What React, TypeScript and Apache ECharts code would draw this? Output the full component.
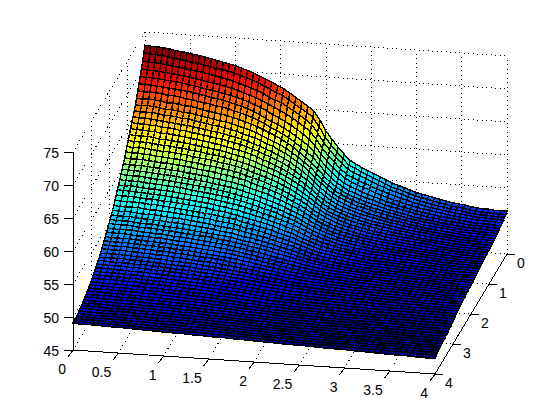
import React, { useEffect, useRef } from "react";
import * as echarts from "echarts";

// Surface height in tenths of a z unit. One row per y step (y = 0 ... 4), one column per x step (x = 0 ... 4).
const surfaceTenths = [
[730,729,729,728,727,725,724,723,721,720,718,716,714,712,710,708,705,702,699,695,691,687,682,678,672,666,660,654,647,634,618,606,595,585,576,571,566,562,558,554,550,546,543,540,537,534,532,530,528,526,524,522,521,520,518,517,516,516,515,515,515],
[721,720,720,719,718,716,715,714,712,711,709,707,705,704,702,700,697,694,691,687,683,679,674,671,665,659,653,648,641,628,613,601,591,581,572,568,563,559,555,551,547,543,541,538,535,532,530,528,526,524,522,520,519,518,516,515,514,514,513,513,513],
[712,711,711,710,709,707,706,705,703,702,701,699,697,695,693,691,688,685,682,679,675,670,666,663,657,652,646,640,633,621,607,596,586,577,569,564,560,556,552,548,545,541,539,536,533,530,528,526,524,522,521,519,518,517,515,514,513,513,512,512,512],
[703,702,702,701,700,699,698,697,695,694,692,690,689,687,685,683,680,677,674,671,667,663,658,654,649,644,638,632,625,614,601,590,581,572,564,560,556,552,549,545,542,539,536,533,531,528,526,524,522,521,519,518,516,515,514,513,512,512,511,511,510],
[695,694,694,693,692,691,690,689,687,686,684,682,681,679,677,675,673,670,667,663,660,655,650,646,641,636,630,624,617,607,595,585,576,568,561,556,552,549,546,542,539,536,533,531,528,526,524,522,521,519,518,516,515,514,513,512,511,511,510,510,509],
[687,686,686,685,684,683,682,681,680,679,677,675,673,672,670,668,665,663,660,656,652,647,643,639,634,629,623,617,610,601,590,580,571,563,557,552,549,545,542,539,536,533,531,528,526,524,522,520,519,517,516,515,514,513,511,510,509,509,509,508,508],
[679,678,678,678,677,675,675,674,672,671,669,668,666,664,663,661,658,656,653,650,646,642,637,633,628,623,617,610,603,596,586,576,567,560,554,549,546,542,539,537,534,531,529,527,525,523,521,519,517,516,515,513,512,512,510,509,509,508,508,507,507],
[671,670,671,670,669,667,667,666,664,664,662,660,658,657,655,654,651,649,646,643,640,636,632,628,623,618,612,605,598,591,582,572,564,557,551,547,543,540,537,534,532,529,527,525,523,521,519,517,516,515,513,512,511,510,509,508,508,507,507,506,506],
[664,663,664,663,662,660,660,659,657,657,655,653,652,650,648,647,645,642,640,637,634,630,626,622,618,613,607,601,594,587,578,569,561,554,549,545,541,538,535,532,530,528,526,524,522,520,518,517,515,514,513,511,510,509,508,507,507,506,506,506,505],
[658,657,657,657,656,654,654,653,651,651,649,647,646,644,643,641,639,637,634,631,629,625,621,618,613,609,603,597,591,584,575,567,559,552,547,543,539,536,534,531,529,527,525,523,521,519,517,516,514,513,512,511,510,509,507,507,506,506,505,505,505],
[652,651,651,650,649,648,647,646,645,644,643,641,640,638,637,635,633,631,629,626,623,620,616,613,608,604,599,593,587,580,572,564,556,550,545,541,537,534,532,529,527,525,523,521,520,518,516,515,513,512,511,510,509,508,507,506,505,505,505,504,504],
[646,645,645,644,644,642,642,641,639,639,637,636,634,633,631,630,628,626,624,621,618,615,611,608,604,600,595,589,583,577,569,561,554,548,543,539,536,533,530,528,526,524,522,520,519,517,516,514,513,511,510,509,508,507,506,505,505,504,504,504,503],
[640,639,639,638,638,636,636,635,634,633,631,630,629,627,626,624,622,620,618,616,613,610,606,603,599,595,590,585,579,573,566,558,551,546,541,537,534,531,529,526,524,522,521,519,517,516,514,513,512,511,510,508,508,507,505,505,504,504,503,503,503],
[634,633,633,633,632,630,630,629,628,627,626,624,623,622,620,619,617,615,613,611,608,605,601,598,595,591,586,581,576,570,563,556,549,544,539,536,532,530,527,525,523,521,520,518,516,515,514,512,511,510,509,508,507,506,505,504,504,503,503,503,502],
[628,627,627,627,626,625,624,624,622,622,620,619,618,616,615,614,612,610,608,606,603,600,597,594,590,587,582,577,572,566,560,553,547,541,537,534,531,528,526,524,522,520,518,517,515,514,513,511,510,509,508,507,506,505,504,504,503,503,502,502,502],
[622,621,622,621,620,619,618,618,617,616,615,613,612,611,610,608,606,605,603,601,598,595,592,589,586,582,578,574,569,563,558,551,545,540,536,532,529,526,524,522,520,518,517,515,514,513,512,511,510,509,508,507,506,505,504,503,503,502,502,502,501],
[617,616,616,615,615,613,613,612,611,611,609,608,607,605,604,603,601,600,598,596,593,590,588,585,581,578,574,570,565,560,555,548,543,538,534,530,527,525,523,521,519,517,516,514,513,512,511,510,509,508,507,506,505,504,503,503,502,502,501,501,501],
[611,610,610,610,609,608,607,607,606,605,604,603,601,600,599,598,596,595,593,591,589,586,583,580,577,574,570,566,561,557,552,546,540,536,532,528,526,523,521,519,517,516,514,513,512,511,510,509,508,507,506,505,504,504,503,502,502,501,501,501,500],
[605,604,604,604,603,602,602,601,600,600,598,597,596,595,594,592,591,589,588,586,584,581,578,576,573,569,566,562,558,554,549,544,538,534,530,527,524,522,520,518,516,515,513,512,511,510,509,508,507,506,505,504,504,503,502,502,501,501,500,500,500],
[600,599,599,598,598,597,596,596,595,594,593,592,591,590,589,587,586,584,583,581,579,576,574,571,568,565,562,558,554,551,546,541,536,532,528,525,523,520,519,517,515,514,512,511,510,509,508,507,506,505,505,504,503,502,502,501,500,500,500,500,499],
[595,594,594,594,593,592,591,591,590,589,588,587,586,585,584,583,581,580,578,576,574,572,570,567,564,561,558,555,551,548,543,538,534,530,527,524,521,519,517,516,514,513,511,510,509,508,507,507,506,505,504,503,503,502,501,501,500,500,499,499,499],
[590,589,589,589,588,587,587,586,585,585,584,583,581,580,579,578,577,575,574,572,570,568,565,563,560,558,555,551,548,545,541,536,532,528,525,522,520,518,516,515,513,512,510,509,509,508,507,506,505,504,504,503,502,502,501,500,500,499,499,499,498],
[585,584,585,584,583,582,582,581,581,580,579,578,577,576,575,574,572,571,569,568,566,564,561,559,556,554,551,548,545,542,538,534,530,526,523,521,518,516,515,513,512,511,509,509,508,507,506,505,505,504,503,502,502,501,500,500,499,499,499,498,498],
[581,580,580,579,579,578,577,577,576,575,574,573,572,571,570,569,568,566,565,563,562,559,557,555,553,550,547,545,541,539,535,531,527,524,521,519,517,515,513,512,511,509,508,508,507,506,505,504,504,503,502,502,501,500,500,499,499,498,498,498,498],
[576,575,575,575,574,573,573,572,571,571,570,569,568,567,566,565,563,562,561,559,557,555,553,551,549,547,544,541,538,536,532,528,525,522,519,517,515,514,512,511,510,508,507,506,506,505,504,503,503,502,502,501,500,500,499,499,498,498,498,497,497],
[571,570,570,570,570,569,568,568,567,566,565,564,563,562,561,560,559,558,556,555,554,551,549,547,545,543,541,538,535,533,530,526,523,520,517,515,514,512,511,510,509,507,506,505,505,504,503,503,502,501,501,500,500,499,498,498,497,497,497,497,496],
[566,565,565,565,565,564,563,563,562,562,561,560,559,558,557,556,555,553,552,551,550,547,545,544,542,540,537,535,532,530,527,524,521,518,515,514,512,511,510,508,507,506,505,504,504,503,503,502,501,501,500,499,499,498,498,497,497,496,496,496,496],
[562,561,561,561,560,559,559,559,558,557,556,556,555,554,553,552,551,549,548,547,546,544,542,540,538,537,534,532,529,527,525,521,519,516,514,512,511,510,508,507,506,505,504,503,503,502,502,501,500,500,499,499,498,498,497,497,496,496,496,496,495],
[558,557,557,557,556,555,555,554,554,553,552,552,551,550,549,548,547,546,544,543,542,540,538,537,535,533,531,529,526,524,522,519,517,514,512,511,510,508,507,506,505,504,503,503,502,501,501,500,500,499,499,498,498,497,497,496,496,495,495,495,495],
[554,553,553,553,552,551,551,551,550,549,548,548,547,546,545,544,543,542,541,540,539,537,535,534,532,530,528,526,524,522,520,517,515,513,511,510,508,507,506,505,504,503,503,502,501,501,500,500,499,498,498,497,497,497,496,496,495,495,495,495,494],
[551,550,550,550,549,548,548,548,547,546,546,545,544,543,542,541,541,540,538,537,536,534,533,531,529,528,526,524,522,520,518,516,514,512,510,509,507,506,505,504,503,503,502,501,501,500,500,499,499,498,498,497,497,496,496,495,495,495,494,494,494],
[547,546,546,546,546,545,544,544,543,543,542,541,541,540,539,538,537,536,535,534,533,531,530,528,526,525,523,521,519,517,515,514,512,510,509,507,506,505,504,503,503,502,501,500,500,499,499,498,498,497,497,496,496,496,495,495,494,494,494,494,493],
[544,543,543,543,542,541,541,541,540,540,539,538,537,537,536,535,534,533,532,531,530,528,527,525,524,522,520,519,517,515,514,512,510,509,507,506,505,504,503,503,502,501,500,500,499,499,498,498,497,497,496,496,495,495,495,494,494,493,493,493,493],
[540,539,539,539,539,538,538,537,537,536,536,535,534,533,533,532,531,530,529,528,527,526,524,523,521,520,518,516,515,513,512,510,509,507,506,505,504,503,502,502,501,500,500,499,499,498,497,497,497,496,496,495,495,495,494,494,493,493,493,492,492],
[537,536,536,536,536,535,535,534,534,533,533,532,531,530,530,529,528,527,526,525,524,523,522,520,519,517,516,514,513,511,510,508,507,506,505,504,503,502,501,501,500,499,499,498,498,497,497,496,496,496,495,495,494,494,494,493,493,492,492,492,492],
[534,533,533,533,533,532,532,531,531,530,530,529,528,528,527,526,525,525,524,523,522,520,519,518,516,515,514,512,511,509,508,507,505,504,503,503,502,501,500,500,499,498,498,497,497,497,496,496,495,495,495,494,494,493,493,493,492,492,492,491,491],
[531,530,530,530,530,529,529,528,528,527,527,526,525,525,524,523,522,522,521,520,519,518,517,515,514,513,512,510,509,508,506,505,504,503,502,501,501,500,499,499,498,498,497,497,496,496,495,495,495,494,494,493,493,493,492,492,492,491,491,491,491],
[527,527,527,527,526,526,525,525,525,524,524,523,522,522,521,521,520,519,518,517,516,515,514,513,512,511,509,508,507,506,505,503,502,501,501,500,500,499,498,498,497,497,496,496,495,495,495,494,494,494,493,493,492,492,492,491,491,491,490,490,490],
[524,524,524,524,524,523,523,522,522,521,521,520,520,519,519,518,517,516,516,515,514,513,512,511,510,509,507,506,505,504,503,502,501,500,500,499,498,498,497,497,496,496,495,495,495,494,494,493,493,493,492,492,492,491,491,491,490,490,490,490,490],
[522,522,521,521,521,521,520,520,520,519,519,518,517,517,516,516,515,514,514,513,512,511,510,509,508,507,506,505,504,503,502,501,500,499,499,498,497,497,496,496,495,495,495,494,494,493,493,493,492,492,492,491,491,491,490,490,490,489,489,489,489],
[520,519,519,519,519,518,518,518,517,517,516,516,515,515,514,513,513,512,511,511,510,509,508,507,506,505,504,503,502,501,500,499,498,498,497,497,496,496,495,495,495,494,494,493,493,493,492,492,492,491,491,490,490,490,490,489,489,489,489,488,488],
[517,517,517,516,516,516,515,515,515,514,514,513,513,512,512,511,510,510,509,508,508,507,506,505,504,503,502,501,500,500,499,498,497,496,496,495,495,494,494,494,493,493,493,492,492,492,491,491,491,490,490,490,489,489,489,489,488,488,488,488,488],
[515,514,514,514,514,513,513,513,512,512,511,511,510,510,509,509,508,508,507,506,506,505,504,503,502,501,500,500,499,498,497,496,496,495,495,494,494,493,493,493,492,492,492,491,491,491,490,490,490,489,489,489,489,488,488,488,488,487,487,487,487],
[513,512,512,512,512,511,511,511,510,510,509,509,508,508,507,507,506,506,505,504,504,503,502,501,501,500,499,498,497,496,496,495,494,494,493,493,492,492,492,491,491,491,490,490,490,490,489,489,489,489,488,488,488,488,487,487,487,487,486,486,486],
[511,510,510,510,510,509,509,509,508,508,507,507,506,506,506,505,504,504,503,503,502,501,500,500,499,498,497,497,496,495,494,494,493,493,492,492,491,491,491,490,490,490,489,489,489,489,488,488,488,488,487,487,487,487,486,486,486,486,486,485,485],
[508,508,507,507,507,507,506,506,506,505,505,505,504,504,503,503,502,502,501,501,500,499,499,498,497,496,496,495,494,493,493,492,492,491,491,490,490,490,489,489,489,489,488,488,488,487,487,487,487,487,486,486,486,486,485,485,485,485,485,484,484],
[506,506,506,506,505,505,505,504,504,504,503,503,503,502,502,501,501,500,500,499,499,498,497,497,496,495,494,494,493,492,492,491,491,490,490,489,489,489,488,488,488,488,487,487,487,487,486,486,486,486,485,485,485,485,484,484,484,484,484,484,483],
[505,504,504,504,504,503,503,503,503,502,502,502,501,501,500,500,499,499,498,498,497,497,496,495,495,494,493,493,492,491,491,490,490,489,489,489,488,488,488,487,487,487,486,486,486,486,486,485,485,485,485,484,484,484,484,483,483,483,483,483,482],
[503,503,503,502,502,502,502,501,501,501,500,500,500,499,499,498,498,498,497,497,496,495,495,494,494,493,492,492,491,491,490,489,489,489,488,488,488,487,487,487,486,486,486,486,485,485,485,485,484,484,484,484,483,483,483,483,482,482,482,482,482],
[501,501,501,501,501,500,500,500,500,499,499,499,498,498,498,497,497,496,496,495,495,494,494,493,493,492,491,491,490,490,489,489,488,488,487,487,487,486,486,486,486,485,485,485,485,484,484,484,484,484,483,483,483,483,482,482,482,482,481,481,481],
[500,500,500,499,499,499,499,499,498,498,498,497,497,497,496,496,496,495,495,494,494,493,493,492,492,491,490,490,489,489,488,488,487,487,487,486,486,486,485,485,485,485,484,484,484,484,483,483,483,483,483,482,482,482,482,481,481,481,481,481,480],
[499,498,498,498,498,498,497,497,497,497,496,496,496,496,495,495,494,494,494,493,493,492,492,491,491,490,490,489,489,488,488,487,487,486,486,486,485,485,485,484,484,484,484,484,483,483,483,483,482,482,482,482,481,481,481,481,481,480,480,480,480],
[497,497,497,497,497,496,496,496,496,496,495,495,495,494,494,494,493,493,493,492,492,491,491,490,490,489,489,488,488,487,487,487,486,486,485,485,485,484,484,484,484,483,483,483,483,482,482,482,482,482,481,481,481,481,480,480,480,480,480,479,479],
[496,496,496,496,495,495,495,495,495,494,494,494,494,493,493,493,492,492,492,491,491,490,490,490,489,489,488,488,487,487,486,486,485,485,485,484,484,484,484,483,483,483,482,482,482,482,482,481,481,481,481,480,480,480,480,480,479,479,479,479,479],
[495,495,495,494,494,494,494,494,494,493,493,493,493,492,492,492,491,491,491,490,490,490,489,489,488,488,487,487,487,486,486,485,485,484,484,484,483,483,483,483,482,482,482,482,481,481,481,481,481,480,480,480,480,480,479,479,479,479,479,478,478],
[494,494,493,493,493,493,493,493,492,492,492,492,491,491,491,491,490,490,490,489,489,489,488,488,487,487,487,486,486,485,485,485,484,484,484,483,483,483,482,482,482,482,481,481,481,481,481,480,480,480,480,480,479,479,479,479,478,478,478,478,478],
[493,493,492,492,492,492,492,492,491,491,491,491,490,490,490,490,490,489,489,489,488,488,488,487,487,486,486,486,485,485,485,484,484,483,483,483,483,482,482,482,482,481,481,481,481,480,480,480,480,480,479,479,479,479,479,478,478,478,478,478,477],
[492,492,492,491,491,491,491,491,491,490,490,490,490,489,489,489,489,488,488,488,488,487,487,487,486,486,485,485,485,484,484,484,483,483,483,482,482,482,482,481,481,481,481,480,480,480,480,480,479,479,479,479,479,478,478,478,478,477,477,477,477],
[492,491,491,491,491,490,490,490,490,490,489,489,489,489,488,488,488,488,487,487,487,487,486,486,486,485,485,485,484,484,484,483,483,483,482,482,482,481,481,481,481,480,480,480,480,480,479,479,479,479,479,478,478,478,478,477,477,477,477,476,476],
[491,491,490,490,490,490,490,489,489,489,489,488,488,488,488,487,487,487,487,486,486,486,486,485,485,485,484,484,484,483,483,483,482,482,482,482,481,481,481,480,480,480,480,480,479,479,479,479,478,478,478,478,477,477,477,477,476,476,476,476,475],
[491,490,490,490,490,489,489,489,489,488,488,488,487,487,487,486,486,486,486,485,485,485,484,484,484,484,483,483,483,482,482,482,481,481,481,480,480,480,480,479,479,479,478,478,478,478,477,477,477,476,476,476,475,475,475,475,474,474,474,473,473],
];
const xTicks = [0,0.5,1,1.5,2,2.5,3,3.5,4];
const yTicks = [0,1,2,3,4];
const zTicks = [45,50,55,60,65,70,75];

const rows = surfaceTenths.length - 1;
const cols = surfaceTenths[0].length - 1;
const zAt = (i:number,j:number)=>surfaceTenths[j][i]/10;
const P=(x:number,y:number,z:number):[number,number]=>[145+90.5*x-18*y, 230+6*x+30*y-6.6*(z-45)];
function jet(t:number){ const q=Math.min(63,Math.max(0,Math.floor(t*64))); const v=(q+0.5)/64;
  const c=(a:number)=>Math.round(255*Math.max(0,Math.min(1,1.5-Math.abs(4*v-a))));
  return `rgb(${c(3)},${c(2)},${c(1)})`; }
const zMin=Math.min(...surfaceTenths.flat())/10, zMax=Math.max(...surfaceTenths.flat())/10;

export default function App(){
  const ref=useRef<HTMLDivElement>(null);
  useEffect(()=>{
    const chart=echarts.init(ref.current!,null,{renderer:"svg"});
    const cells:number[][]=[];
    for(let j=0;j<rows;j++)for(let i=0;i<cols;i++)cells.push([i,j]);
    const dotted:number[][][]=[];
    const A=(a:[number,number],b:[number,number])=>dotted.push([a,b]);
    xTicks.forEach(x=>{A(P(x,0,45),P(x,0,75));A(P(x,0,45),P(x,4,45));});
    yTicks.forEach(y=>{A(P(0,y,45),P(0,y,75));A(P(0,y,45),P(4,y,45));});
    zTicks.forEach(z=>{A(P(0,0,z),P(4,0,z));A(P(0,0,z),P(0,4,z));});
    const solid:number[][][]=[[P(0,4,45),P(0,4,75)],[P(0,4,45),P(4,4,45)],[P(4,4,45),P(4,0,45)]];
    xTicks.forEach(x=>{const p=P(x,4,45);solid.push([p,[p[0]-5,p[1]+7]]);});
    yTicks.forEach(y=>{const p=P(4,y,45);solid.push([p,[p[0]+8,p[1]]]);});
    zTicks.forEach(z=>{const p=P(0,4,z);solid.push([p,[p[0]-9,p[1]]]);});
    const labels:any[]=[];
    xTicks.forEach(x=>{const p=P(x,4,45);labels.push([p[0]-7,p[1]+19,String(x),"right"]);});
    yTicks.forEach(y=>{const p=P(4,y,45);labels.push([p[0]+14,p[1]+9,String(y),"center"]);});
    zTicks.forEach(z=>{const p=P(0,4,z);labels.push([p[0]-14,p[1]+1,String(z),"right"]);});
    const seg=(name:string,data:any[],style:any)=>({type:"custom",name,coordinateSystem:"cartesian2d",silent:true,clip:false,progressive:0,data:data.map((d,i)=>[i]),
      renderItem:(_:any,api:any)=>{const d=data[api.value(0)];const a=api.coord(d[0]),b=api.coord(d[1]);return{type:"line",shape:{x1:a[0],y1:a[1],x2:b[0],y2:b[1]},style};}});
    chart.setOption({animation:false,
      grid:{left:0,right:0,top:0,bottom:0},
      xAxis:{type:"value",min:0,max:560,show:false},
      yAxis:{type:"value",min:0,max:420,inverse:true,show:false},
      series:[
        seg("grid",dotted,{stroke:"#000",lineWidth:1,lineDash:[1,3.5],fill:null}),
        {type:"custom",name:"surface",coordinateSystem:"cartesian2d",silent:true,clip:false,progressive:0,data:cells,
         renderItem:(_:any,api:any)=>{const i=api.value(0),j=api.value(1);
          const pts=[[i,j],[i+1,j],[i+1,j+1],[i,j+1]].map(([a,b])=>api.coord(P(a/cols*4,b/rows*4,zAt(a,b))));
          return{type:"polygon",shape:{points:pts},style:{fill:jet((zAt(i,j)-zMin)/(zMax-zMin)),stroke:"#000",lineWidth:1.4}};}},
        seg("axes",solid,{stroke:"#000",lineWidth:1,fill:null}),
        {type:"custom",name:"labels",coordinateSystem:"cartesian2d",silent:true,clip:false,data:labels.map((l,i)=>[i]),
         renderItem:(_:any,api:any)=>{const l=labels[api.value(0)];const a=api.coord([l[0],l[1]]);
          return{type:"text",x:a[0],y:a[1],style:{text:l[2],fill:"#000",font:"14px 'Liberation Sans'",align:l[3],verticalAlign:"middle"}};}},
      ]});
    return()=>chart.dispose();
  },[]);
  return <div ref={ref} style={{position:"fixed",left:0,top:0,width:560,height:420,background:"#fff",shapeRendering:"crispEdges"}}/>;
}
